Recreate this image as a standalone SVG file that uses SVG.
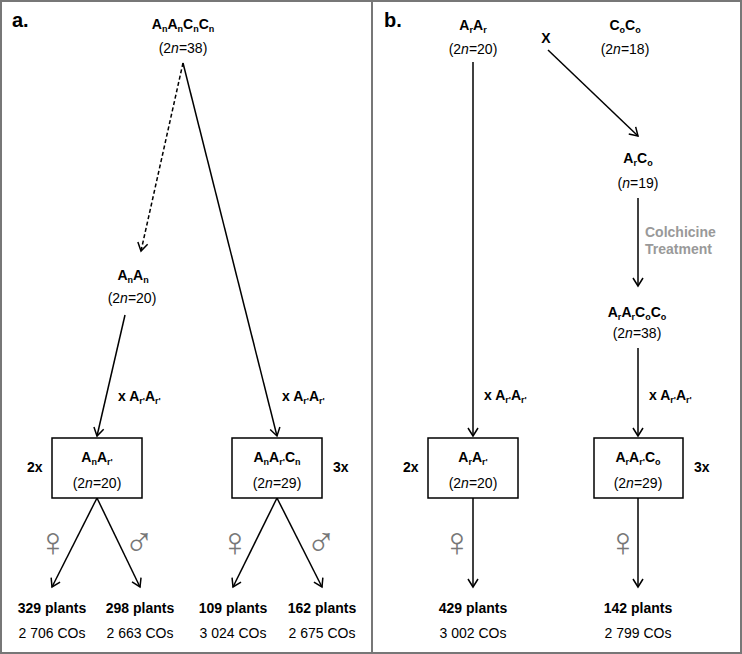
<svg xmlns="http://www.w3.org/2000/svg" width="742" height="654" viewBox="0 0 742 654">
<style>
text{font-family:"Liberation Sans",Arial,sans-serif;font-size:14px;fill:#000}
.b{font-weight:bold}
.s{font-size:9px}
.big{font-size:20px;font-weight:bold}
.gray{fill:#999;font-weight:bold}
.sym{font-family:"Liberation Sans",Arial,sans-serif;font-size:41px;fill:#777}
.ln{stroke:#000;stroke-width:1.5;fill:none}
.box{stroke:#000;stroke-width:1.5;fill:#fff}
</style>
<defs>
<marker id="ah" viewBox="-9 -6 11 12" markerWidth="11" markerHeight="12" refX="0" refY="0" orient="auto" markerUnits="userSpaceOnUse">
<path d="M-8,-5 L0,0 L-8,5" fill="none" stroke="#000" stroke-width="1.5"/>
</marker>
</defs>
<rect x="1" y="1" width="740" height="652" fill="#fff" stroke="#777" stroke-width="2"/>
<line x1="372" y1="0" x2="372" y2="654" stroke="#777" stroke-width="2"/>
<text x="12" y="27" class="big">a.</text>
<text x="384" y="27" class="big">b.</text>

<g id="connectors">
<line x1="183" y1="63" x2="141" y2="251" class="ln" stroke-dasharray="4,2.5" marker-end="url(#ah)"/>
<line x1="183" y1="63" x2="277" y2="436" class="ln" marker-end="url(#ah)"/>
<line x1="125" y1="315" x2="97" y2="436" class="ln" marker-end="url(#ah)"/>
<line x1="97" y1="498" x2="52" y2="587" class="ln" marker-end="url(#ah)"/>
<line x1="97" y1="498" x2="140" y2="587" class="ln" marker-end="url(#ah)"/>
<line x1="277" y1="498" x2="233" y2="587" class="ln" marker-end="url(#ah)"/>
<line x1="277" y1="498" x2="322" y2="587" class="ln" marker-end="url(#ah)"/>
<line x1="473" y1="62" x2="473" y2="436" class="ln" marker-end="url(#ah)"/>
<line x1="548" y1="50" x2="638" y2="136" class="ln" marker-end="url(#ah)"/>
<line x1="638" y1="198" x2="638" y2="286" class="ln" marker-end="url(#ah)"/>
<line x1="638" y1="348" x2="638" y2="436" class="ln" marker-end="url(#ah)"/>
<line x1="473" y1="498" x2="473" y2="587" class="ln" marker-end="url(#ah)"/>
<line x1="638" y1="498" x2="638" y2="587" class="ln" marker-end="url(#ah)"/>
</g>

<g id="AnAnCnCn">
<text x="183" y="29" class="b" text-anchor="middle">A<tspan class="s" dy="3">n</tspan><tspan dy="-3">A</tspan><tspan class="s" dy="3">n</tspan><tspan dy="-3">C</tspan><tspan class="s" dy="3">n</tspan><tspan dy="-3">C</tspan><tspan class="s" dy="3">n</tspan></text>
<text x="183" y="53" text-anchor="middle">(2<tspan font-style="italic">n</tspan>=38)</text>
</g>

<g id="AnAn">
<text x="133" y="280" class="b" text-anchor="middle">A<tspan class="s" dy="3">n</tspan><tspan dy="-3">A</tspan><tspan class="s" dy="3">n</tspan></text>
<text x="132" y="303" text-anchor="middle">(2<tspan font-style="italic">n</tspan>=20)</text>
</g>

<g id="crossA1"><text x="118" y="401" class="b">x A<tspan class="s" dy="3">r'</tspan><tspan dy="-3">A</tspan><tspan class="s" dy="3">r'</tspan></text></g>
<g id="crossA2"><text x="282" y="401" class="b">x A<tspan class="s" dy="3">r'</tspan><tspan dy="-3">A</tspan><tspan class="s" dy="3">r'</tspan></text></g>

<g id="boxA1">
<rect x="52" y="438" width="90" height="60" class="box"/>
<text x="97" y="462" class="b" text-anchor="middle">A<tspan class="s" dy="3">n</tspan><tspan dy="-3">A</tspan><tspan class="s" dy="3">r'</tspan></text>
<text x="97" y="488" text-anchor="middle">(2<tspan font-style="italic">n</tspan>=20)</text>
<text x="27" y="472" class="b">2x</text>
</g>

<g id="boxA2">
<rect x="232" y="438" width="90" height="60" class="box"/>
<text x="277" y="462" class="b" text-anchor="middle">A<tspan class="s" dy="3">n</tspan><tspan dy="-3">A</tspan><tspan class="s" dy="3">r'</tspan><tspan dy="-3">C</tspan><tspan class="s" dy="3">n</tspan></text>
<text x="277" y="488" text-anchor="middle">(2<tspan font-style="italic">n</tspan>=29)</text>
<text x="333" y="472" class="b">3x</text>
</g>

<g id="sexA">
<text x="53" y="556" class="sym" text-anchor="middle">♀</text>
<text x="139" y="556" class="sym" text-anchor="middle">♂</text>
<text x="235" y="556" class="sym" text-anchor="middle">♀</text>
<text x="321" y="556" class="sym" text-anchor="middle">♂</text>
</g>

<g id="resA1"><text x="52" y="613" class="b" text-anchor="middle">329 plants</text><text x="52" y="638" text-anchor="middle">2 706 COs</text></g>
<g id="resA2"><text x="140" y="613" class="b" text-anchor="middle">298 plants</text><text x="140" y="638" text-anchor="middle">2 663 COs</text></g>
<g id="resA3"><text x="233" y="613" class="b" text-anchor="middle">109 plants</text><text x="233" y="638" text-anchor="middle">3 024 COs</text></g>
<g id="resA4"><text x="322" y="613" class="b" text-anchor="middle">162 plants</text><text x="322" y="638" text-anchor="middle">2 675 COs</text></g>

<g id="ArAr">
<text x="473" y="30" class="b" text-anchor="middle">A<tspan class="s" dy="3">r</tspan><tspan dy="-3">A</tspan><tspan class="s" dy="3">r</tspan></text>
<text x="473" y="54" text-anchor="middle">(2<tspan font-style="italic">n</tspan>=20)</text>
</g>
<g id="crossX"><text x="546" y="43" class="b" text-anchor="middle">X</text></g>
<g id="CoCo">
<text x="625" y="30" class="b" text-anchor="middle">C<tspan class="s" dy="3">o</tspan><tspan dy="-3">C</tspan><tspan class="s" dy="3">o</tspan></text>
<text x="625" y="54" text-anchor="middle">(2<tspan font-style="italic">n</tspan>=18)</text>
</g>
<g id="ArCo">
<text x="638" y="163" class="b" text-anchor="middle">A<tspan class="s" dy="3">r</tspan><tspan dy="-3">C</tspan><tspan class="s" dy="3">o</tspan></text>
<text x="638" y="188" text-anchor="middle">(<tspan font-style="italic">n</tspan>=19)</text>
</g>
<g id="colchicine">
<text x="645" y="237" class="gray">Colchicine</text>
<text x="645" y="254" class="gray">Treatment</text>
</g>
<g id="ArArCoCo">
<text x="637" y="317" class="b" text-anchor="middle">A<tspan class="s" dy="3">r</tspan><tspan dy="-3">A</tspan><tspan class="s" dy="3">r</tspan><tspan dy="-3">C</tspan><tspan class="s" dy="3">o</tspan><tspan dy="-3">C</tspan><tspan class="s" dy="3">o</tspan></text>
<text x="637" y="338" text-anchor="middle">(2<tspan font-style="italic">n</tspan>=38)</text>
</g>

<g id="crossB1"><text x="484" y="400" class="b">x A<tspan class="s" dy="3">r'</tspan><tspan dy="-3">A</tspan><tspan class="s" dy="3">r'</tspan></text></g>
<g id="crossB2"><text x="649" y="400" class="b">x A<tspan class="s" dy="3">r'</tspan><tspan dy="-3">A</tspan><tspan class="s" dy="3">r'</tspan></text></g>

<g id="boxB1">
<rect x="428" y="438" width="90" height="60" class="box"/>
<text x="473" y="462" class="b" text-anchor="middle">A<tspan class="s" dy="3">r</tspan><tspan dy="-3">A</tspan><tspan class="s" dy="3">r'</tspan></text>
<text x="473" y="488" text-anchor="middle">(2<tspan font-style="italic">n</tspan>=20)</text>
<text x="403" y="472" class="b">2x</text>
</g>
<g id="boxB2">
<rect x="594" y="438" width="89" height="60" class="box"/>
<text x="638" y="462" class="b" text-anchor="middle">A<tspan class="s" dy="3">r</tspan><tspan dy="-3">A</tspan><tspan class="s" dy="3">r'</tspan><tspan dy="-3">C</tspan><tspan class="s" dy="3">o</tspan></text>
<text x="638" y="488" text-anchor="middle">(2<tspan font-style="italic">n</tspan>=29)</text>
<text x="694" y="472" class="b">3x</text>
</g>
<g id="sexB">
<text x="457" y="556" class="sym" text-anchor="middle">♀</text>
<text x="623" y="556" class="sym" text-anchor="middle">♀</text>
</g>
<g id="resB1"><text x="473" y="613" class="b" text-anchor="middle">429 plants</text><text x="473" y="638" text-anchor="middle">3 002 COs</text></g>
<g id="resB2"><text x="638" y="613" class="b" text-anchor="middle">142 plants</text><text x="638" y="638" text-anchor="middle">2 799 COs</text></g>
</svg>
